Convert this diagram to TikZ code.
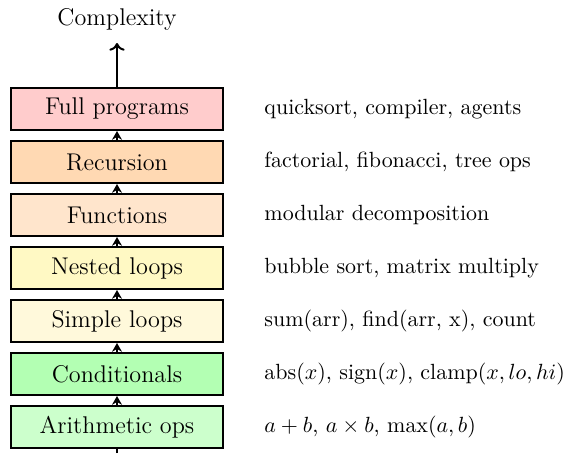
\documentclass[tikz,border=0pt]{standalone}
\usetikzlibrary{arrows.meta}
\definecolor{cFull}{RGB}{255,204,204}
\definecolor{cRec}{RGB}{255,217,179}
\definecolor{cFun}{RGB}{255,229,204}
\definecolor{cNest}{RGB}{255,249,196}
\definecolor{cSimp}{RGB}{255,249,219}
\definecolor{cCond}{RGB}{179,255,179}
\definecolor{cArith}{RGB}{204,255,204}
\tikzset{
  level/.style={draw, line width=0.9pt, minimum width=212*0.455pt, minimum height=42*0.455pt, inner sep=0pt, anchor=center, font=\fontsize{11}{13}\selectfont},
  example/.style={anchor=west, inner sep=0pt},
  link/.style={line width=0.9pt, -{Stealth[length=4pt,width=4.5pt]}},
}
\begin{document}
\begin{tikzpicture}[x=0.455pt,y=-0.455pt]
\useasboundingbox (0,0) rectangle (572,453);
\node[font=\fontsize{11}{13}\selectfont] (title) at (117,19) {Complexity};
\coordinate (top) at (117,43);
\coordinate (bot) at (117,453);
\node[level, fill=cFull] (full) at (117,109) {Full programs};
\node[level, fill=cRec] (rec) at (117,162) {Recursion};
\node[level, fill=cFun] (fun) at (117,215) {Functions};
\node[level, fill=cNest] (nest) at (117,268) {Nested loops};
\node[level, fill=cSimp] (simp) at (117,321) {Simple loops};
\node[level, fill=cCond] (cond) at (117,374) {Conditionals};
\node[level, fill=cArith] (arith) at (117,427) {Arithmetic ops};
\draw[line width=0.9pt] (bot) -- (arith.south);
\draw[link] (arith.north) -- (cond.south);
\draw[link] (cond.north) -- (simp.south);
\draw[link] (simp.north) -- (nest.south);
\draw[link] (nest.north) -- (fun.south);
\draw[link] (fun.north) -- (rec.south);
\draw[link] (rec.north) -- (full.south);
\draw[line width=0.9pt, -{To[length=3.5pt,width=7pt]}] (full.north) -- (top);
\node[example] (e1) at (264,109) {quicksort, compiler, agents};
\node[example] (e2) at (264,162) {factorial, fibonacci, tree ops};
\node[example] (e3) at (264,215) {modular decomposition};
\node[example] (e4) at (264,268) {bubble sort, matrix multiply};
\node[example] (e5) at (264,321) {sum(arr), find(arr, x), count};
\node[example] (e6) at (264,374) {abs($x$), sign($x$), clamp($x, lo, hi$)};
\node[example] (e7) at (264,427) {$a+b$, $a\times b$, $\max(a,b)$};
\end{tikzpicture}
\end{document}
